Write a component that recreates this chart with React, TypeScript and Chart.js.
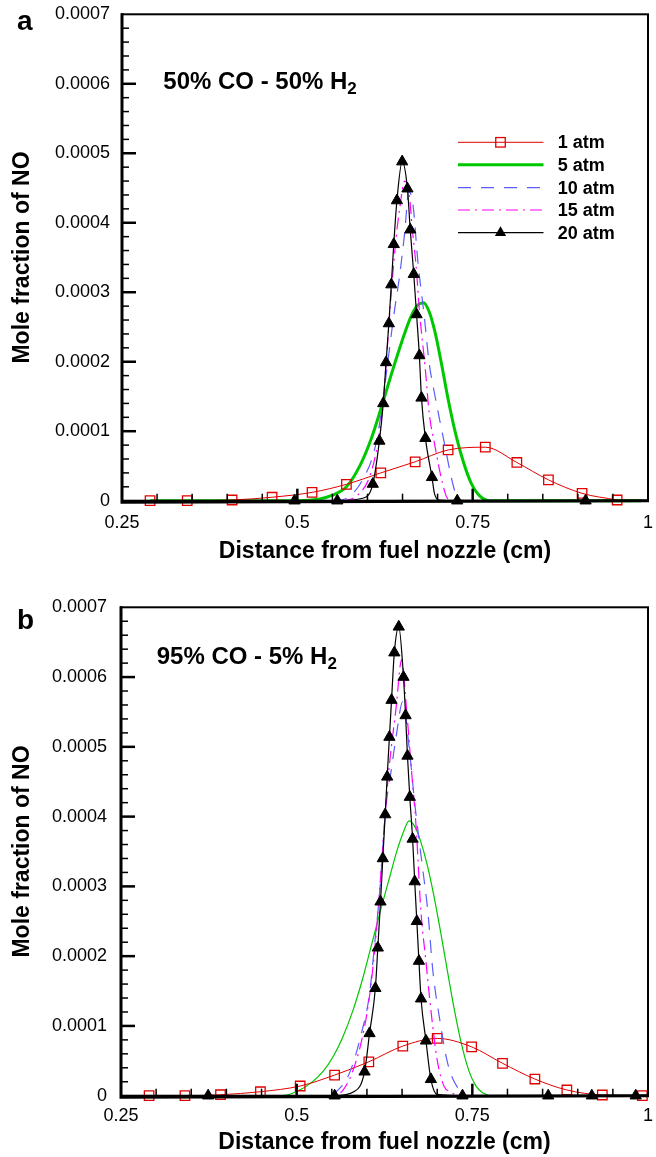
import React, { useEffect, useRef } from 'react';
import { Chart, registerables } from 'chart.js';

Chart.register(...registerables);

const FONT = '"Liberation Sans", Arial, Helvetica, sans-serif';

// ---- axes ----
const xTicks = [0.25, 0.5, 0.75, 1];
const yTicks = [0, 0.0001, 0.0002, 0.0003, 0.0004, 0.0005, 0.0006, 0.0007];
const xTitle = 'Distance from fuel nozzle (cm)';
const yTitle = 'Mole fraction of NO';
const seriesLabels = ['1 atm', '5 atm', '10 atm', '15 atm', '20 atm'];

// ---- panel a: 50% CO - 50% H2 ----
const a1X = [0.29, 0.343, 0.407, 0.464, 0.521, 0.57, 0.619, 0.668, 0.715, 0.768, 0.813, 0.858, 0.906, 0.956];
const a1Y = [0, 0, 0.000001, 0.000005, 0.000012, 0.0000236, 0.00004, 0.000056, 0.000073, 0.000077, 0.000055, 0.00003, 0.0000106, 0.000001];

const a5X = [0.29, 0.5, 0.53, 0.55, 0.57, 0.59, 0.605, 0.62, 0.635, 0.65, 0.662, 0.672, 0.68, 0.688, 0.696, 0.705, 0.715, 0.726, 0.737, 0.748, 0.76, 0.775, 0.99];
const a5Y = [0, 0, 0.000002, 0.000008, 0.00002, 0.000052, 0.000088, 0.000135, 0.000185, 0.000232, 0.000265, 0.000282, 0.000285, 0.000272, 0.000244, 0.0002, 0.000146, 0.000095, 0.000055, 0.000025, 0.000007, 0, 0];

const a10X = [0.29, 0.55, 0.574, 0.593, 0.61, 0.6196, 0.629, 0.638, 0.6456, 0.653, 0.659, 0.665, 0.6717, 0.681, 0.688, 0.6955, 0.7097, 0.7215, 0.7286, 0.74, 0.99];
const a10Y = [0, 0, 0.000006, 0.00003, 0.000073, 0.000126, 0.0002, 0.00027, 0.000322, 0.000385, 0.000445, 0.000425, 0.000346, 0.000265, 0.000198, 0.000155, 0.0000826, 0.000025, 0.0000035, 0, 0];

const a15X = [0.29, 0.56, 0.586, 0.603, 0.6147, 0.622, 0.6267, 0.634, 0.641, 0.6456, 0.653, 0.659, 0.6645, 0.6694, 0.674, 0.6826, 0.688, 0.6955, 0.707, 0.714, 0.725, 0.99];
const a15Y = [0, 0, 0.000008, 0.0000345, 0.0000826, 0.00014, 0.000198, 0.0003, 0.00038, 0.000418, 0.00046, 0.000445, 0.000385, 0.000337, 0.000274, 0.000188, 0.000126, 0.0000826, 0.000025, 0.0000035, 0, 0];

const a20X = [0.29, 0.496, 0.557, 0.593, 0.6076, 0.617, 0.6225, 0.6265, 0.6305, 0.634, 0.6375, 0.642, 0.6495, 0.657, 0.661, 0.666, 0.67, 0.674, 0.677, 0.6826, 0.692, 0.6955, 0.702, 0.728, 0.911, 0.99];
const a20Y = [0, 0, 0, 0.0000035, 0.000024, 0.000086, 0.00014, 0.000199, 0.000255, 0.000311, 0.000369, 0.000432, 0.000488, 0.000449, 0.00039, 0.000326, 0.000268, 0.000209, 0.000148, 0.00009, 0.0000337, 0.0000106, 0.000001, 0, 0, 0];
const a20Mark = [0, 1, 1, 0, 1, 1, 1, 1, 1, 1, 1, 1, 1, 1, 1, 1, 1, 1, 1, 1, 1, 0, 0, 1, 1, 0];

// ---- panel b: 95% CO - 5% H2 ----
const b1X = [0.29, 0.341, 0.3916, 0.4484, 0.505, 0.554, 0.6027, 0.651, 0.7, 0.749, 0.793, 0.839, 0.8845, 0.935, 0.992];
const b1Y = [0, 0, 0.0000014, 0.0000057, 0.0000139, 0.0000296, 0.0000486, 0.0000711, 0.0000821, 0.00007, 0.0000464, 0.0000239, 0.0000082, 0.000001, 0];

const b5X = [0.29, 0.48, 0.504, 0.52, 0.537, 0.553, 0.566, 0.58, 0.594, 0.607, 0.62, 0.632, 0.643, 0.652, 0.66, 0.668, 0.676, 0.685, 0.695, 0.705, 0.715, 0.725, 0.735, 0.745, 0.755, 0.765, 0.78, 0.99];
const b5Y = [0, 0, 0.000008, 0.000018, 0.000034, 0.000058, 0.000085, 0.000122, 0.000168, 0.000218, 0.000268, 0.000312, 0.000352, 0.000378, 0.000394, 0.000386, 0.000366, 0.000334, 0.000288, 0.000234, 0.000176, 0.00012, 0.000072, 0.000036, 0.000014, 0.000004, 0, 0];

const b10X = [0.29, 0.54, 0.554, 0.575, 0.592, 0.6037, 0.611, 0.618, 0.627, 0.6345, 0.6416, 0.651, 0.6605, 0.6676, 0.679, 0.6866, 0.6937, 0.703, 0.715, 0.7315, 0.745, 0.99];
const b10Y = [0, 0, 0.000004, 0.000032, 0.000089, 0.000146, 0.000218, 0.00029, 0.000413, 0.000466, 0.000515, 0.000565, 0.000495, 0.000423, 0.000328, 0.000265, 0.00018, 0.000113, 0.000046, 0.000008, 0, 0];

const b15X = [0.29, 0.55, 0.566, 0.582, 0.5966, 0.606, 0.614, 0.6298, 0.6416, 0.6495, 0.6558, 0.663, 0.67, 0.6767, 0.6838, 0.691, 0.7, 0.71, 0.719, 0.73, 0.99];
const b15Y = [0, 0, 0.000008, 0.0000415, 0.0000987, 0.000161, 0.000242, 0.000452, 0.000557, 0.000625, 0.000561, 0.000471, 0.000385, 0.000266, 0.000194, 0.000123, 0.000051, 0.000013, 0.0000057, 0, 0];

const b20X = [0.29, 0.374, 0.554, 0.582, 0.5966, 0.6037, 0.612, 0.6155, 0.6193, 0.6226, 0.626, 0.6288, 0.632, 0.635, 0.639, 0.6453, 0.652, 0.655, 0.6577, 0.661, 0.665, 0.668, 0.671, 0.674, 0.677, 0.684, 0.691, 0.7, 0.736, 0.858, 0.92, 0.9825];
const b20Y = [0, 0, 0, 0.000006, 0.0000343, 0.0000893, 0.000154, 0.000212, 0.000278, 0.00034, 0.000403, 0.000457, 0.000514, 0.000567, 0.000635, 0.000672, 0.0006, 0.000545, 0.000487, 0.000428, 0.000368, 0.000307, 0.00025, 0.000193, 0.000139, 0.0000787, 0.0000235, 0.000002, 0, 0, 0, 0];
const b20Mark = [0, 1, 1, 0, 1, 1, 1, 1, 1, 1, 1, 1, 1, 1, 1, 1, 1, 1, 1, 1, 1, 1, 1, 1, 1, 1, 1, 0, 1, 1, 1, 1];

const RED = '#e00000';
const GREEN = '#00c800';
const BLUE = '#5c5cff';
const MAGENTA = '#ff00ff';
const BLACK = '#000000';

type Panel = {
  letter: string;
  comp: string;
  canvasH: number;
  padTop: number;
  padRight: number;
  yWidth: number;
  xHeight: number;
  xTickPad: number;
  yTickPad: number;
  xTitlePad: number;
  labelY: number;
  compX: number;
  compY: number;
  greenWidth: number;
  legend: boolean;
  s1: [number[], number[]];
  s5: [number[], number[]];
  s10: [number[], number[]];
  s15: [number[], number[]];
  s20: [number[], number[], number[]];
};

const panels: Panel[] = [
  {
    letter: 'a', comp: '50% CO - 50% H', canvasH: 590, padTop: 14.3, padRight: 7, yWidth: 122, xHeight: 89.3,
    xTickPad: 11.5, yTickPad: 12, xTitlePad: 25, labelY: 30, compX: 163.3, compY: 89.3, greenWidth: 3, legend: true,
    s1: [a1X, a1Y], s5: [a5X, a5Y], s10: [a10X, a10Y], s15: [a15X, a15Y], s20: [a20X, a20Y, a20Mark],
  },
  {
    letter: 'b', comp: '95% CO - 5% H', canvasH: 567, padTop: 17.3, padRight: 7.5, yWidth: 121, xHeight: 61.3,
    xTickPad: 9.5, yTickPad: 14, xTitlePad: 0.5, labelY: 39.3, compX: 156.7, compY: 74, greenWidth: 1.2, legend: false,
    s1: [b1X, b1Y], s5: [b5X, b5Y], s10: [b10X, b10Y], s15: [b15X, b15Y], s20: [b20X, b20Y, b20Mark],
  },
];

const pts = (xs: number[], ys: number[]) => xs.map((x, i) => ({ x, y: ys[i] }));

function buildConfig(p: Panel): any {
  const common = {
    fill: false,
    cubicInterpolationMode: 'monotone',
    clip: false,
    pointHoverRadius: 0,
  };
  const styles = [
    { color: RED, width: 1, dash: [] as number[] },
    { color: GREEN, width: p.greenWidth, dash: [] as number[] },
    { color: BLUE, width: 1.2, dash: [13, 10] },
    { color: MAGENTA, width: 1.2, dash: [12, 5, 2, 5] },
    { color: BLACK, width: 1.2, dash: [] as number[] },
  ];
  const datasets = [
    {
      ...common, label: seriesLabels[0], data: pts(p.s1[0], p.s1[1]), order: 3,
      borderColor: RED, borderWidth: 1, pointStyle: 'rect', pointRadius: 6.7,
      pointBackgroundColor: 'rgba(0,0,0,0)', pointBorderColor: RED, pointBorderWidth: 1.3,
    },
    {
      ...common, label: seriesLabels[1], data: pts(p.s5[0], p.s5[1]), order: 4,
      borderColor: GREEN, borderWidth: p.greenWidth, pointRadius: 0,
    },
    {
      ...common, label: seriesLabels[2], data: pts(p.s10[0], p.s10[1]), order: 2,
      borderColor: BLUE, borderWidth: 1.2, borderDash: [13, 10], pointRadius: 0,
    },
    {
      ...common, label: seriesLabels[3], data: pts(p.s15[0], p.s15[1]), order: 1,
      borderColor: MAGENTA, borderWidth: 1.2, borderDash: [12, 5, 2, 5], pointRadius: 0,
    },
    {
      ...common, label: seriesLabels[4], data: pts(p.s20[0], p.s20[1]), order: 0,
      borderColor: BLACK, borderWidth: 1.2, pointStyle: 'triangle',
      pointRadius: (c: any) => (p.s20[2][c.dataIndex] ? 6.5 : 0),
      pointBackgroundColor: BLACK, pointBorderColor: BLACK, pointBorderWidth: 1,
    },
  ];

  const framePlugin = {
    id: 'frame' + p.letter,
    afterDatasetsDraw(chart: any) {
      const { ctx, chartArea } = chart;
      const { left, right, top, bottom } = chartArea;
      const xs = chart.scales.x;
      const ys = chart.scales.y;
      ctx.save();
      ctx.strokeStyle = '#000';
      ctx.setLineDash([]);
      ctx.lineWidth = 2;
      ctx.strokeRect(left, top, right - left, bottom - top);
      ctx.lineWidth = 3;
      ctx.beginPath();
      ctx.moveTo(left, top - 1);
      ctx.lineTo(left, bottom + 1.5);
      ctx.lineTo(right + 1, bottom);
      ctx.stroke();
      // x ticks (inward)
      for (let i = 1; i < 15; i++) {
        const v = 0.25 + i * 0.05;
        const px = xs.getPixelForValue(v);
        const major = i % 5 === 0;
        ctx.lineWidth = major ? 2.5 : 1.5;
        ctx.beginPath();
        ctx.moveTo(px, bottom);
        ctx.lineTo(px, bottom - (major ? 12 : 7));
        ctx.stroke();
      }
      // y ticks (inward)
      for (let i = 1; i < 35; i++) {
        const v = i * 0.00002;
        const py = ys.getPixelForValue(v);
        const major = i % 5 === 0;
        ctx.lineWidth = major ? 2.5 : 1.5;
        ctx.beginPath();
        ctx.moveTo(left, py);
        ctx.lineTo(left + (major ? 14 : 7), py);
        ctx.stroke();
      }
      ctx.restore();
    },
  };

  const textPlugin = {
    id: 'text' + p.letter,
    afterDraw(chart: any) {
      const { ctx } = chart;
      ctx.save();
      ctx.fillStyle = '#000';
      ctx.textBaseline = 'alphabetic';
      ctx.textAlign = 'left';
      ctx.font = `bold 28px ${FONT}`;
      ctx.fillText(p.letter, 17, p.labelY);
      ctx.font = `bold 24px ${FONT}`;
      ctx.fillText(p.comp, p.compX, p.compY);
      const w = ctx.measureText(p.comp).width;
      ctx.font = `bold 17px ${FONT}`;
      ctx.fillText('2', p.compX + w, p.compY + 4.5);
      if (p.legend) {
        const rows = [142.3, 164.7, 187.7, 210, 232.7];
        const x0 = 458, x1 = 543.5, xm = 500.5, tx = 557.7;
        rows.forEach((ry, i) => {
          const st = styles[i];
          ctx.strokeStyle = st.color;
          ctx.lineWidth = st.width;
          ctx.setLineDash(st.dash);
          ctx.beginPath();
          ctx.moveTo(x0, ry);
          ctx.lineTo(x1, ry);
          ctx.stroke();
          ctx.setLineDash([]);
          if (i === 0) {
            ctx.lineWidth = 1.3;
            ctx.strokeRect(xm - 4.75, ry - 4.75, 9.5, 9.5);
          }
          if (i === 4) {
            const r = 6.5;
            ctx.fillStyle = BLACK;
            ctx.beginPath();
            ctx.moveTo(xm, ry - r);
            ctx.lineTo(xm + r * 0.866, ry + r * 0.5);
            ctx.lineTo(xm - r * 0.866, ry + r * 0.5);
            ctx.closePath();
            ctx.fill();
          }
          ctx.fillStyle = '#000';
          ctx.font = `bold 18px ${FONT}`;
          ctx.textBaseline = 'middle';
          ctx.fillText(seriesLabels[i], tx, ry + 1);
        });
      }
      ctx.restore();
    },
  };

  return {
    type: 'line',
    data: { datasets },
    plugins: [framePlugin, textPlugin],
    options: {
      responsive: false,
      animation: false,
      devicePixelRatio: 1,
      events: [],
      layout: { padding: { left: 0, right: p.padRight, top: p.padTop, bottom: 0 } },
      plugins: { legend: { display: false }, tooltip: { enabled: false } },
      scales: {
        x: {
          type: 'linear',
          min: 0.25,
          max: 1,
          grid: { display: false, drawTicks: false },
          border: { display: false },
          afterBuildTicks: (s: any) => { s.ticks = xTicks.map((v) => ({ value: v })); },
          afterFit: (s: any) => {
            s.height = p.xHeight;
            s.paddingLeft = 0;
            s.paddingRight = 0;
          },
          ticks: {
            color: '#000',
            font: { family: FONT, size: 18 },
            padding: p.xTickPad,
            maxRotation: 0,
            autoSkip: false,
            callback: (v: any) => String(+Number(v).toFixed(2)),
          },
          title: {
            display: true,
            text: xTitle,
            color: '#000',
            font: { family: FONT, size: 23, weight: 'bold' },
            padding: { top: 0, bottom: p.xTitlePad },
          },
        },
        y: {
          type: 'linear',
          min: 0,
          max: 0.0007,
          grid: { display: false, drawTicks: false },
          border: { display: false },
          afterBuildTicks: (s: any) => { s.ticks = yTicks.map((v) => ({ value: v })); },
          afterFit: (s: any) => {
            s.width = p.yWidth;
            s.paddingTop = 0;
            s.paddingBottom = 0;
          },
          ticks: {
            color: '#000',
            font: { family: FONT, size: 18 },
            padding: p.yTickPad,
            autoSkip: false,
            callback: (v: any) => (Number(v) === 0 ? '0' : Number(v).toFixed(4)),
          },
          title: {
            display: true,
            text: yTitle,
            color: '#000',
            font: { family: FONT, size: 23, weight: 'bold' },
            padding: { top: 8.7, bottom: 0 },
          },
        },
      },
    },
  };
}

export default function App() {
  const refA = useRef<HTMLCanvasElement>(null);
  const refB = useRef<HTMLCanvasElement>(null);
  useEffect(() => {
    const ca = new Chart(refA.current as HTMLCanvasElement, buildConfig(panels[0]));
    const cb = new Chart(refB.current as HTMLCanvasElement, buildConfig(panels[1]));
    return () => {
      ca.destroy();
      cb.destroy();
    };
  }, []);
  return (
    <div style={{ position: 'absolute', left: 0, top: 0, width: 656, height: 1157, background: '#fff' }}>
      <canvas
        ref={refA}
        width={656}
        height={590}
        style={{ position: 'absolute', left: 0, top: 0, width: 656, height: 590 }}
      />
      <canvas
        ref={refB}
        width={656}
        height={567}
        style={{ position: 'absolute', left: 0, top: 590, width: 656, height: 567 }}
      />
    </div>
  );
}
